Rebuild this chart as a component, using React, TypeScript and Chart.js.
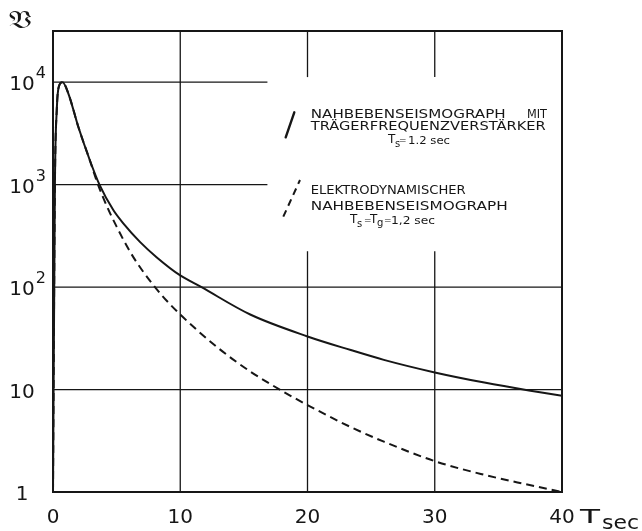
import { useEffect, useRef } from "react";
import { Chart, registerables } from "chart.js";

Chart.register(...registerables);

// Axis ticks
const xTicks = [0, 10, 20, 30, 40];
const yTicks = [1, 10, 100, 1000, 10000];
const yTickBase = ["1", "10", "10", "10", "10"];
const yTickExp = ["", "", "2", "3", "4"];

// Magnification of the short-period seismograph with carrier-frequency amplifier
const solidT = [0, 0.15, 0.3, 0.45, 0.75, 1.2, 2.0, 2.86, 3.65, 4.75, 5.54, 6.85, 8.16, 10, 11.6, 15.5, 20, 23.4, 26, 30, 33.9, 37.4, 40];
const solidV = [1, 1000, 5500, 9000, 10000, 7800, 3630, 1780, 1000, 562, 417, 275, 195, 130, 101, 54, 33, 24.3, 19.5, 14.7, 11.7, 9.8, 8.7];

// Magnification of the electrodynamic short-period seismograph
const dashedT = [0, 0.15, 0.3, 0.45, 0.75, 1.2, 2.0, 2.86, 3.5, 4.23, 5.0, 6.06, 7.11, 8.56, 10, 12.89, 15.5, 18, 20, 23.4, 26, 30, 33.9, 36.5, 40];
const dashedV = [1, 1000, 5500, 9000, 10000, 7800, 3630, 1780, 1030, 617, 389, 221, 140, 83, 54, 26, 15, 9.7, 7.06, 4.3, 3.1, 2.0, 1.47, 1.24, 1.0];

const FONT = '"DejaVu Sans", "Liberation Sans", sans-serif';
const INK = "#161616";

// Region kept free of grid lines for the legend text
const LEGEND_X = 16.85;
const LEGEND_TOP = 11220;
const LEGEND_BOTTOM = 224;

function fitText(ctx: CanvasRenderingContext2D, text: string, x: number, y: number, w: number, size: number, font = FONT) {
  ctx.save();
  ctx.font = `${size}px ${font}`;
  const m = ctx.measureText(text).width;
  ctx.translate(x, y);
  ctx.scale(w / m, 1);
  ctx.textAlign = "left";
  ctx.textBaseline = "alphabetic";
  ctx.fillText(text, 0, 0);
  ctx.restore();
}

function plainText(ctx: CanvasRenderingContext2D, text: string, x: number, y: number, size: number, align: CanvasTextAlign = "left", font = FONT) {
  ctx.font = `${size}px ${font}`;
  ctx.textAlign = align;
  ctx.textBaseline = "alphabetic";
  ctx.fillText(text, x, y);
}

const gridPlugin = {
  id: "paperGrid",
  beforeDatasetsDraw(chart: any) {
    const { ctx, chartArea: a, scales } = chart;
    const x = scales.x;
    const y = scales.y;
    const seg = (x1: number, y1: number, x2: number, y2: number) => {
      ctx.beginPath();
      ctx.moveTo(x1, y1);
      ctx.lineTo(x2, y2);
      ctx.stroke();
    };
    ctx.save();
    ctx.strokeStyle = INK;
    ctx.lineWidth = 1.3;
    for (const t of xTicks.slice(1, -1)) {
      const px = x.getPixelForValue(t);
      if (t < LEGEND_X) {
        seg(px, a.top, px, a.bottom);
      } else {
        seg(px, a.top, px, y.getPixelForValue(LEGEND_TOP));
        seg(px, y.getPixelForValue(LEGEND_BOTTOM), px, a.bottom);
      }
    }
    for (const v of yTicks.slice(1)) {
      const py = y.getPixelForValue(v);
      const end = v > LEGEND_BOTTOM && v < LEGEND_TOP ? x.getPixelForValue(LEGEND_X) : a.right;
      seg(a.left, py, end, py);
    }
    ctx.restore();
  },
  afterDraw(chart: any) {
    const { ctx, chartArea: a, scales } = chart;
    const x = scales.x;
    const y = scales.y;
    ctx.save();
    // frame
    ctx.strokeStyle = INK;
    ctx.lineWidth = 2;
    ctx.strokeRect(a.left, a.top, a.right - a.left, a.bottom - a.top);

    ctx.fillStyle = INK;
    // y tick labels
    yTicks.forEach((v, i) => {
      const py = y.getPixelForValue(v);
      const base = yTickBase[i];
      plainText(ctx, base, 22, py + 8, 20, "center");
      if (yTickExp[i]) {
        const w = ctx.measureText(base).width;
        plainText(ctx, yTickExp[i], 22 + w / 2 + 1, py - 4, 16, "left");
      }
    });
    // x tick labels
    xTicks.forEach((t) => {
      plainText(ctx, String(t), x.getPixelForValue(t), 523, 20, "center");
    });
    fitText(ctx, "T", 580, 523, 20, 20);
    fitText(ctx, "sec", 602, 529, 37, 19);
    // y axis symbol
    fitText(ctx, "𝔙", 8, 28, 24, 24, '"DejaVu Serif", "DejaVu Sans", serif');

    // legend: solid line
    ctx.lineWidth = 2.4;
    ctx.lineCap = "round";
    ctx.beginPath();
    ctx.moveTo(285.7, 137.3);
    ctx.lineTo(294.3, 112.3);
    ctx.stroke();
    fitText(ctx, "NAHBEBENSEISMOGRAPH", 310.7, 117.7, 195, 11.5);
    fitText(ctx, "MIT", 527, 117.7, 20, 11.5);
    fitText(ctx, "TRÄGERFREQUENZVERSTÄRKER", 310.7, 130, 235, 11.5);
    plainText(ctx, "T", 388, 143, 12);
    plainText(ctx, "s", 395, 147, 10);
    plainText(ctx, "=", 399, 143, 9);
    fitText(ctx, "1.2 sec", 408, 144, 42, 11);

    // legend: dashed line
    ctx.lineWidth = 2;
    ctx.lineCap = "butt";
    ctx.setLineDash([7, 5]);
    ctx.beginPath();
    ctx.moveTo(283.3, 216.7);
    ctx.lineTo(300, 180);
    ctx.stroke();
    ctx.setLineDash([]);
    fitText(ctx, "ELEKTRODYNAMISCHER", 310.7, 194.3, 155, 11.5);
    fitText(ctx, "NAHBEBENSEISMOGRAPH", 310.7, 210, 197, 11.5);
    plainText(ctx, "T", 350, 223, 12);
    plainText(ctx, "s", 357, 227, 10);
    plainText(ctx, "=", 364, 223, 9);
    plainText(ctx, "T", 370, 223, 12);
    plainText(ctx, "g", 377, 226, 10);
    plainText(ctx, "=", 384, 223, 9);
    fitText(ctx, "1,2 sec", 391, 224, 44, 11);
    ctx.restore();
  },
};

export default function App() {
  const ref = useRef<HTMLCanvasElement | null>(null);

  useEffect(() => {
    if (!ref.current) return;
    const solid = solidT.map((t, i) => ({ x: t, y: solidV[i] }));
    const dashed = dashedT.map((t, i) => ({ x: t, y: dashedV[i] }));
    const chart = new Chart(ref.current, {
      type: "line",
      data: {
        datasets: [
          {
            label: "Nahbebenseismograph mit Trägerfrequenzverstärker",
            data: solid,
            borderColor: INK,
            borderWidth: 2,
            pointRadius: 0,
            cubicInterpolationMode: "monotone",
            fill: false,
          },
          {
            label: "Elektrodynamischer Nahbebenseismograph",
            data: dashed,
            borderColor: INK,
            borderWidth: 2,
            borderDash: [8, 5],
            pointRadius: 0,
            cubicInterpolationMode: "monotone",
            fill: false,
          },
        ],
      },
      options: {
        animation: false,
        responsive: false,
        devicePixelRatio: 1,
        layout: { padding: { left: 53, top: 31, right: 80, bottom: 39 } },
        plugins: { legend: { display: false }, tooltip: { enabled: false } },
        scales: {
          x: { type: "linear", min: 0, max: 40, display: false },
          y: { type: "logarithmic", min: 1, max: Math.pow(10, 4.5), display: false },
        },
      },
      plugins: [gridPlugin],
    });
    return () => chart.destroy();
  }, []);

  return (
    <div style={{ position: "absolute", left: 0, top: 0, width: 642, height: 531, background: "#fff" }}>
      <canvas ref={ref} width={642} height={531} />
    </div>
  );
}
